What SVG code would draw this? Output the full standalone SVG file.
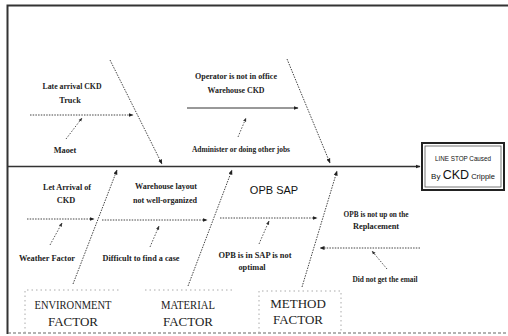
<svg xmlns="http://www.w3.org/2000/svg" width="508" height="336" viewBox="0 0 508 336">
<defs>
<marker id="ah" viewBox="0 0 10 10" refX="9" refY="5" markerWidth="5" markerHeight="5" orient="auto" markerUnits="userSpaceOnUse">
<path d="M0,1 L10,5 L0,9 z" fill="#222"/>
</marker>
<marker id="ahs" viewBox="0 0 10 10" refX="9" refY="5" markerWidth="4" markerHeight="4" orient="auto" markerUnits="userSpaceOnUse">
<path d="M0,1 L10,5 L0,9 z" fill="#333"/>
</marker>
</defs>
<style>
.frame{stroke:#333;stroke-width:2;fill:none}
.spine{stroke:#333;stroke-width:1.6;fill:none}
.diag{stroke:#444;stroke-width:1;stroke-dasharray:1.5 1.2;fill:none}
.hdot{stroke:#444;stroke-width:1;stroke-dasharray:1.5 1.2;fill:none}
.solid{stroke:#333;stroke-width:1;fill:none}
.sub{stroke:#555;stroke-width:1;stroke-dasharray:1.5 1.5;fill:none}
.fbox{stroke:#aaa;stroke-width:1;stroke-dasharray:1.5 3;fill:none}
.lbl{font-family:"Liberation Serif","Times New Roman",serif;font-size:8.3px;font-weight:bold;fill:#222;text-anchor:middle}
.fac{font-family:"Liberation Serif","Times New Roman",serif;font-size:13px;fill:#222;text-anchor:middle}
.sans{font-family:"Liberation Sans",Arial,sans-serif;fill:#111;text-anchor:middle}
</style>
<rect width="508" height="336" fill="#fff"/>
<path class="frame" d="M7.5,334 V5.5 H508"/>
<line x1="8" y1="333" x2="508" y2="333" stroke="#666" stroke-width="1.2" stroke-dasharray="3 2"/>

<g id="connectors">
<line class="spine" x1="8" y1="166.5" x2="420" y2="166.5" marker-end="url(#ah)"/>
<line class="diag" x1="110" y1="60" x2="162" y2="164" marker-end="url(#ah)"/>
<line class="diag" x1="287" y1="59" x2="330" y2="163" marker-end="url(#ah)"/>
<line class="diag" x1="73" y1="284" x2="117" y2="170" marker-end="url(#ah)"/>
<line class="diag" x1="188" y1="286" x2="232" y2="170" marker-end="url(#ah)"/>
<line class="diag" x1="302" y1="287" x2="337" y2="171" marker-end="url(#ah)"/>
<line class="hdot" x1="30" y1="115" x2="133" y2="115" marker-end="url(#ah)"/>
<line class="solid" x1="187" y1="108" x2="298" y2="108" marker-end="url(#ah)"/>
<line class="hdot" x1="27" y1="219" x2="94" y2="219" marker-end="url(#ah)"/>
<line class="hdot" x1="102" y1="220" x2="207" y2="220" marker-end="url(#ah)"/>
<line class="hdot" x1="220" y1="218" x2="317" y2="218" marker-end="url(#ah)"/>
<line class="hdot" x1="420" y1="248" x2="320" y2="248" marker-end="url(#ah)"/>
<line class="sub" x1="66" y1="139" x2="82" y2="118" marker-end="url(#ahs)"/>
<line class="sub" x1="238" y1="137" x2="246" y2="118" marker-end="url(#ahs)"/>
<line class="sub" x1="50" y1="245" x2="62" y2="223" marker-end="url(#ahs)"/>
<line class="sub" x1="150" y1="247" x2="159" y2="226" marker-end="url(#ahs)"/>
<line class="sub" x1="259" y1="244" x2="269" y2="221" marker-end="url(#ahs)"/>
<line class="sub" x1="387" y1="269" x2="372" y2="251" marker-end="url(#ahs)"/>
</g>

<g id="effect">
<rect x="422" y="143" width="82" height="47" fill="#fff" stroke="#222" stroke-width="2"/>
<rect x="425" y="146" width="76" height="41" fill="none" stroke="#555" stroke-width="0.8"/>
<text class="sans" x="463" y="161" font-size="8" textLength="56" lengthAdjust="spacingAndGlyphs">LINE STOP Caused</text>
<text class="sans" x="463" y="179" font-size="8"><tspan font-size="8">By </tspan><tspan font-size="12.5">CKD</tspan><tspan font-size="7.5"> Cripple</tspan></text>
</g>

<g id="late-arrival-truck">
<text class="lbl" x="72" y="89" textLength="59" lengthAdjust="spacingAndGlyphs">Late arrival CKD</text>
<text class="lbl" x="70" y="103">Truck</text>
</g>
<g id="maoet">
<text class="lbl" x="65" y="153" font-size="10" font-weight="normal">Maoet</text>
</g>
<g id="operator">
<text class="lbl" x="236" y="79" textLength="82" lengthAdjust="spacingAndGlyphs">Operator is not in office</text>
<text class="lbl" x="236" y="93" textLength="57" lengthAdjust="spacingAndGlyphs">Warehouse CKD</text>
</g>
<g id="administer">
<text class="lbl" x="241" y="152" textLength="98" lengthAdjust="spacingAndGlyphs">Administer or doing other jobs</text>
</g>
<g id="let-arrival">
<text class="lbl" x="67" y="190" textLength="48" lengthAdjust="spacingAndGlyphs">Let Arrival of</text>
<text class="lbl" x="66" y="203">CKD</text>
</g>
<g id="weather">
<text class="lbl" x="47" y="261" textLength="56" lengthAdjust="spacingAndGlyphs">Weather Factor</text>
</g>
<g id="warehouse-layout">
<text class="lbl" x="166" y="189" textLength="62" lengthAdjust="spacingAndGlyphs">Warehouse layout</text>
<text class="lbl" x="165" y="203" textLength="64" lengthAdjust="spacingAndGlyphs">not well-organized</text>
</g>
<g id="difficult">
<text class="lbl" x="141" y="261" textLength="77" lengthAdjust="spacingAndGlyphs">Difficult to find a case</text>
</g>
<g id="opb-sap">
<text class="sans" x="274" y="194" font-size="11">OPB SAP</text>
</g>
<g id="opb-in-sap">
<text class="lbl" x="255" y="258" textLength="73" lengthAdjust="spacingAndGlyphs">OPB is in SAP is not</text>
<text class="lbl" x="252" y="270">optimal</text>
</g>
<g id="opb-not-up">
<text class="lbl" x="376" y="217" textLength="65" lengthAdjust="spacingAndGlyphs">OPB is not up on the</text>
<text class="lbl" x="376" y="229">Replacement</text>
</g>
<g id="email">
<text class="lbl" x="385" y="282" textLength="65" lengthAdjust="spacingAndGlyphs">Did not get the email</text>
</g>

<g id="environment-factor">
<path class="fbox" d="M25,333 V290 H120"/>
<text class="fac" x="73" y="309" textLength="77" lengthAdjust="spacingAndGlyphs">ENVIRONMENT</text>
<text class="fac" x="73" y="326">FACTOR</text>
</g>
<g id="material-factor">
<path class="fbox" d="M145,290 H232"/>
<text class="fac" x="188" y="309" textLength="54" lengthAdjust="spacingAndGlyphs">MATERIAL</text>
<text class="fac" x="188" y="326">FACTOR</text>
</g>
<g id="method-factor">
<path class="fbox" d="M259,333 V291 H341 V333"/>
<text class="fac" x="298" y="308">METHOD</text>
<text class="fac" x="298" y="324">FACTOR</text>
</g>
</svg>
